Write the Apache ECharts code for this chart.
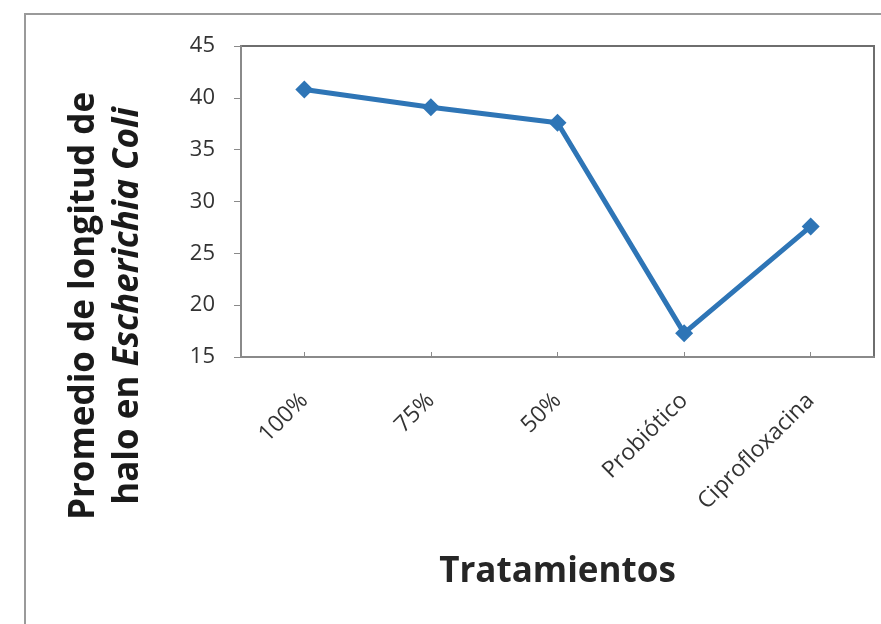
<!DOCTYPE html>
<html>
<head>
<meta charset="utf-8">
<script src="https://cdn.jsdelivr.net/npm/echarts@6/dist/echarts.min.js"></script>
<style>
  html, body { margin: 0; padding: 0; background: #fff; }
  #chart { width: 881px; height: 624px; }
</style>
</head>
<body>
<div id="chart"></div>
<script>
// Treatment categories and mean halo length (Escherichia coli)
const categories = ['100%', '75%', '50%', 'Probiótico', 'Ciprofloxacina'];
const haloMeans = [40.8, 39.1, 37.6, 17.3, 27.6];
const yTicks = { min: 15, max: 45, interval: 5 };

const FONT = '"Open Sans", "DejaVu Sans", sans-serif';
const chart = echarts.init(document.getElementById('chart'), null, { renderer: 'canvas' });

chart.setOption({
  backgroundColor: '#ffffff',
  animation: false,
  graphic: [{
    // outer chart-area frame
    type: 'rect',
    shape: { x: 25, y: 14, width: 900, height: 700 },
    style: { fill: 'none', stroke: '#9a9a9a', lineWidth: 2 },
    silent: true
  }, {
    // vertical axis title, two lines with the species name in italics
    type: 'text',
    x: 106, y: 306,
    rotation: Math.PI / 2,
    silent: true,
    style: {
      text: '{b|Promedio de longitud de}\n{b|halo en }{i|Escherichia Coli}',
      align: 'center',
      verticalAlign: 'middle',
      rich: {
        b: { fontFamily: FONT, fontSize: 35, fontWeight: 'bold', fill: '#1a1a1a', lineHeight: 44 },
        i: { fontFamily: FONT, fontSize: 35, fontWeight: 'bold', fontStyle: 'italic', fill: '#1a1a1a', lineHeight: 44 }
      }
    }
  }],
  grid: {
    left: 241, top: 46, right: 7, bottom: 267,
    containLabel: false,
    outerBoundsMode: 'none',
    show: true, borderColor: '#6e6e6e', borderWidth: 2, backgroundColor: 'transparent'
  },
  xAxis: {
    type: 'category',
    data: categories,
    boundaryGap: true,
    axisLine: { lineStyle: { color: '#8a8a8a', width: 2 } },
    axisTick: { show: true, alignWithLabel: true, inside: true, length: 5, lineStyle: { color: '#8a8a8a' } },
    axisLabel: { rotate: 45, margin: 40, fontFamily: FONT, fontSize: 23, color: '#333333', interval: 0 },
    name: 'Tratamientos',
    nameLocation: 'middle',
    nameGap: 198,
    nameTextStyle: { fontFamily: FONT, fontSize: 35, fontWeight: 'bold', color: '#262626' }
  },
  yAxis: {
    type: 'value',
    min: yTicks.min, max: yTicks.max, interval: yTicks.interval,
    splitLine: { show: false },
    axisLine: { show: true, lineStyle: { color: '#8a8a8a', width: 2 } },
    axisTick: { show: true, length: 7, lineStyle: { color: '#8a8a8a' } },
    axisLabel: { margin: 26, fontFamily: FONT, fontSize: 22, color: '#333333' }
  },
  series: [{
    type: 'line',
    data: haloMeans,
    symbol: 'diamond',
    symbolSize: 18,
    lineStyle: { color: '#2E75B6', width: 5 },
    itemStyle: { color: '#2E75B6' }
  }]
});
</script>
</body>
</html>
